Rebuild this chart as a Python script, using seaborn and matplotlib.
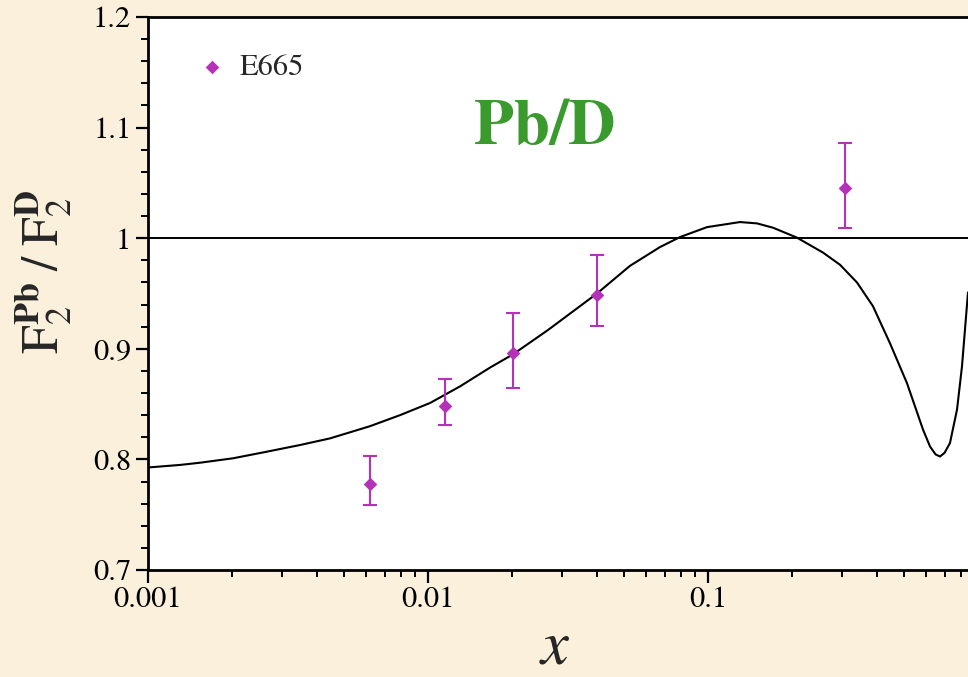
import matplotlib
matplotlib.use("Agg")
import matplotlib.pyplot as plt
import matplotlib.ticker as mticker
import numpy as np
import pandas as pd
import seaborn as sns

# Model curve for the Pb/D structure-function ratio
curve_x = [0.001, 0.0013015, 0.001534, 0.002012, 0.002661, 0.003490, 0.004467,
           0.006203, 0.007943, 0.01017, 0.01301, 0.01665, 0.02012, 0.02683,
           0.04014, 0.05265, 0.06741, 0.07943, 0.09918, 0.1301, 0.1496, 0.1707,
           0.2079, 0.2575, 0.2961, 0.3405, 0.3884, 0.4467, 0.5136, 0.5860,
           0.6208, 0.6500, 0.6741, 0.7000, 0.7316, 0.7752, 0.8075, 0.8485]
curve_y = [0.7927, 0.795, 0.797, 0.801, 0.807, 0.813, 0.819,
           0.830, 0.840, 0.851, 0.866, 0.883, 0.895, 0.917,
           0.950, 0.975, 0.992, 1.001, 1.010, 1.0146, 1.0134, 1.0095,
           1.0005, 0.987, 0.976, 0.960, 0.9385, 0.905, 0.869, 0.827,
           0.8117, 0.8045, 0.8026, 0.806, 0.8148, 0.845, 0.884, 0.951]

# E665 measurements with asymmetric uncertainties
e665_x = [0.0062, 0.0115, 0.0202, 0.0402, 0.308]
e665_y = [0.778, 0.848, 0.896, 0.949, 1.045]
e665_err_lo = [0.019, 0.017, 0.031, 0.028, 0.036]
e665_err_hi = [0.025, 0.025, 0.036, 0.036, 0.041]

x_ticks = [0.001, 0.01, 0.1]
x_tick_labels = ["0.001", "0.01", "0.1"]
y_ticks = [0.7, 0.8, 0.9, 1.0, 1.1, 1.2]
y_tick_labels = ["0.7", "0.8", "0.9", "1", "1.1", "1.2"]

MAGENTA = "#B531B8"
GREEN = "#3A9A2D"
PAPER = "#FAF0DC"

sns.set_theme(style="ticks")
plt.rcParams["font.family"] = ["TeX Gyre Termes", "Liberation Serif", "STIXGeneral", "DejaVu Serif"]
plt.rcParams["mathtext.fontset"] = "stix"

fig = plt.figure(figsize=(9.68, 6.77), dpi=100, facecolor=PAPER)
ax = fig.add_axes([148 / 968, 1 - 570 / 677, 1 - 148 / 968, (570 - 17) / 677])
ax.set_facecolor("white")

curve_df = pd.DataFrame({"x": curve_x, "ratio": curve_y})
pts_df = pd.DataFrame({"x": e665_x, "ratio": e665_y})

ax.axhline(1.0, color="black", lw=1.4, zorder=2)
sns.lineplot(data=curve_df, x="x", y="ratio", ax=ax, color="black", lw=1.5,
             sort=False, estimator=None, zorder=3)
ax.errorbar(e665_x, e665_y, yerr=[e665_err_lo, e665_err_hi], fmt="none",
            ecolor=MAGENTA, elinewidth=1.5, capsize=5, capthick=1.5, zorder=4)
sns.scatterplot(data=pts_df, x="x", y="ratio", ax=ax, marker="D", s=48,
                color=MAGENTA, edgecolor=MAGENTA, linewidth=0, zorder=5,
                label="E665")

ax.set_xscale("log")
ax.set_xlim(0.001, 0.8485)
ax.set_ylim(0.7, 1.2)
ax.set_xticks(x_ticks)
ax.set_xticklabels(x_tick_labels)
ax.xaxis.set_minor_locator(mticker.LogLocator(base=10, subs=np.arange(2, 10)))
ax.xaxis.set_minor_formatter(mticker.NullFormatter())
ax.set_yticks(y_ticks)
ax.set_yticklabels(y_tick_labels)
ax.yaxis.set_minor_locator(mticker.MultipleLocator(0.02))

ax.tick_params(axis="both", which="major", direction="out", length=9, width=1.6,
               labelsize=22, color="black", labelcolor="black", pad=3)
ax.tick_params(axis="both", which="minor", direction="out", length=5, width=1.4,
               color="black")
ax.tick_params(top=False, right=False, which="both")

for side in ["left", "bottom", "top"]:
    ax.spines[side].set_visible(True)
    ax.spines[side].set_linewidth(2.0)
    ax.spines[side].set_color("black")
ax.spines["right"].set_visible(False)

ax.set_xlabel("x", fontsize=45, fontstyle="italic")
ax.xaxis.set_label_coords((555 - 148) / 820, (570 - 676) / 553)
ax.xaxis.label.set_va("bottom")

ax.set_ylabel(r"$\mathrm{F}_2^{\mathbf{Pb}}\;/\;\mathrm{F}_2^{\mathbf{D}}$", fontsize=37)
ax.yaxis.set_label_coords((44 - 148) / 820, (570 - 272) / 553)
ax.yaxis.label.set_va("center")

leg = ax.legend(loc="center left", bbox_to_anchor=((200 - 148) / 820, (570 - 68) / 553),
                frameon=False, fontsize=22, handlelength=0.8, handletextpad=0.5,
                borderpad=0, borderaxespad=0, markerscale=1.0)

fig.text(545 / 968, 1 - 128 / 677, "Pb/D", color=GREEN, fontsize=47,
         fontweight="bold", ha="center", va="center")

fig.savefig("out.png", dpi=100, facecolor=PAPER)
